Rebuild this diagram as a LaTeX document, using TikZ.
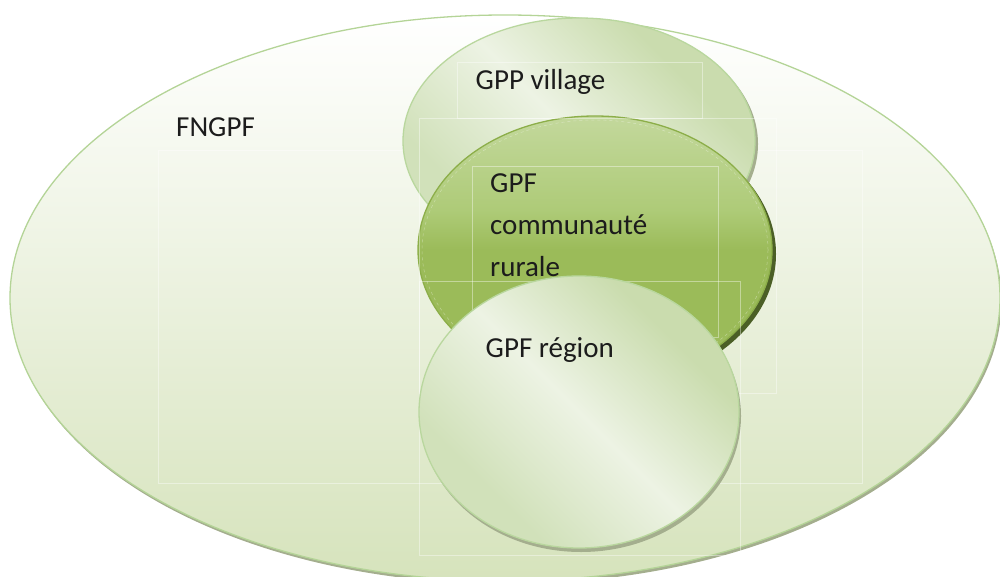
\documentclass[tikz,border=0pt]{standalone}
\usepackage{fontspec}
\setmainfont{Carlito}
\usetikzlibrary{shapes.geometric,shadows}
\definecolor{fngpfline}{HTML}{B4D497}
\definecolor{fngpfbot}{HTML}{D6E3BC}
\definecolor{shadowgray}{HTML}{A4AE8E}
\definecolor{lightedge}{HTML}{CADCAE}
\definecolor{lightmid}{HTML}{EDF3E4}
\definecolor{lightedgeb}{HTML}{D1E1BA}
\definecolor{lightline}{HTML}{B9D79E}
\definecolor{midtop}{HTML}{C3D89C}
\definecolor{midupper}{HTML}{AECB78}
\definecolor{midmid}{HTML}{9BBB59}
\definecolor{midbot}{HTML}{A7C36C}
\definecolor{midline}{HTML}{8CAE49}
\definecolor{darkshadow}{HTML}{4B5F26}
\definecolor{txtcol}{HTML}{1C1C1C}
\pgfdeclarehorizontalshading{lightdiag}{100bp}{color(0bp)=(lightedgeb); color(30bp)=(lightedgeb); color(50bp)=(lightmid); color(70bp)=(lightedge); color(100bp)=(lightedge)}
\pgfdeclareverticalshading{midvert}{100bp}{color(0bp)=(midbot); color(25bp)=(midbot); color(35bp)=(midmid); color(50bp)=(midmid); color(57.5bp)=(midupper); color(75bp)=(midtop); color(100bp)=(midtop)}
\begin{document}
\begin{tikzpicture}[x=1pt,y=-1pt]
\tikzset{
  blob/.style={ellipse, inner sep=0pt, line width=1.3pt},
  lbl/.style={anchor=base west, inner sep=0pt, font=\fontsize{29}{41.5}\selectfont, text=txtcol},
  faintbox/.style={draw=white, draw opacity=0.4, line width=0.7pt},
  lightblob/.style={blob, draw=lightline, shading=lightdiag, shading angle=45}
}
\useasboundingbox (0,0) rectangle (1000,577);
% outer ellipse
\node[blob, minimum width=990pt, minimum height=566pt, draw=fngpfline,
      top color=white, bottom color=fngpfbot,
      drop shadow={shadow xshift=1.5pt, shadow yshift=-3pt, fill=shadowgray, opacity=1}] (fngpf) at (505,298) {};
% faint text box of the outer ellipse
\draw[faintbox] (158,150) rectangle (862,483);
% village
\node[lightblob, minimum width=352pt, minimum height=246pt,
      drop shadow={shadow xshift=3pt, shadow yshift=-3pt, fill=shadowgray, opacity=1}] (village) at (579,141) {};
\draw[faintbox] (457,62) rectangle (702,118);
% communaute rurale
\node[blob, minimum width=354pt, minimum height=268pt, draw=midline,
      shading=midvert,
      drop shadow={shadow xshift=4pt, shadow yshift=-4pt, fill=darkshadow, opacity=1}] (commu) at (595,250) {};
\draw[white, opacity=0.35, line width=0.5pt, dashed] (595,250) ellipse [x radius=173, y radius=130];
\draw[faintbox] (419,118) rectangle (776,393);
\draw[faintbox] (472,166) rectangle (718,337);
\draw[faintbox] (419,281) rectangle (740,555);
% region
\node[lightblob, minimum width=320pt, minimum height=272pt,
      drop shadow={shadow xshift=2pt, shadow yshift=-4pt, fill=shadowgray, opacity=1}] (region) at (579,412) {};
% labels
\node[lbl] (tfngpf) at (176,137) {FNGPF};
\node[lbl] (tvillage) at (475.5,90) {GPP village};
\node[lbl] (tgpf) at (490,193) {GPF};
\node[lbl] (tcommu) at (490,235) {communauté};
\node[lbl] (trurale) at (490,276) {rurale};
\node[lbl] (tregion) at (485.5,357) {GPF région};
\end{tikzpicture}
\end{document}
